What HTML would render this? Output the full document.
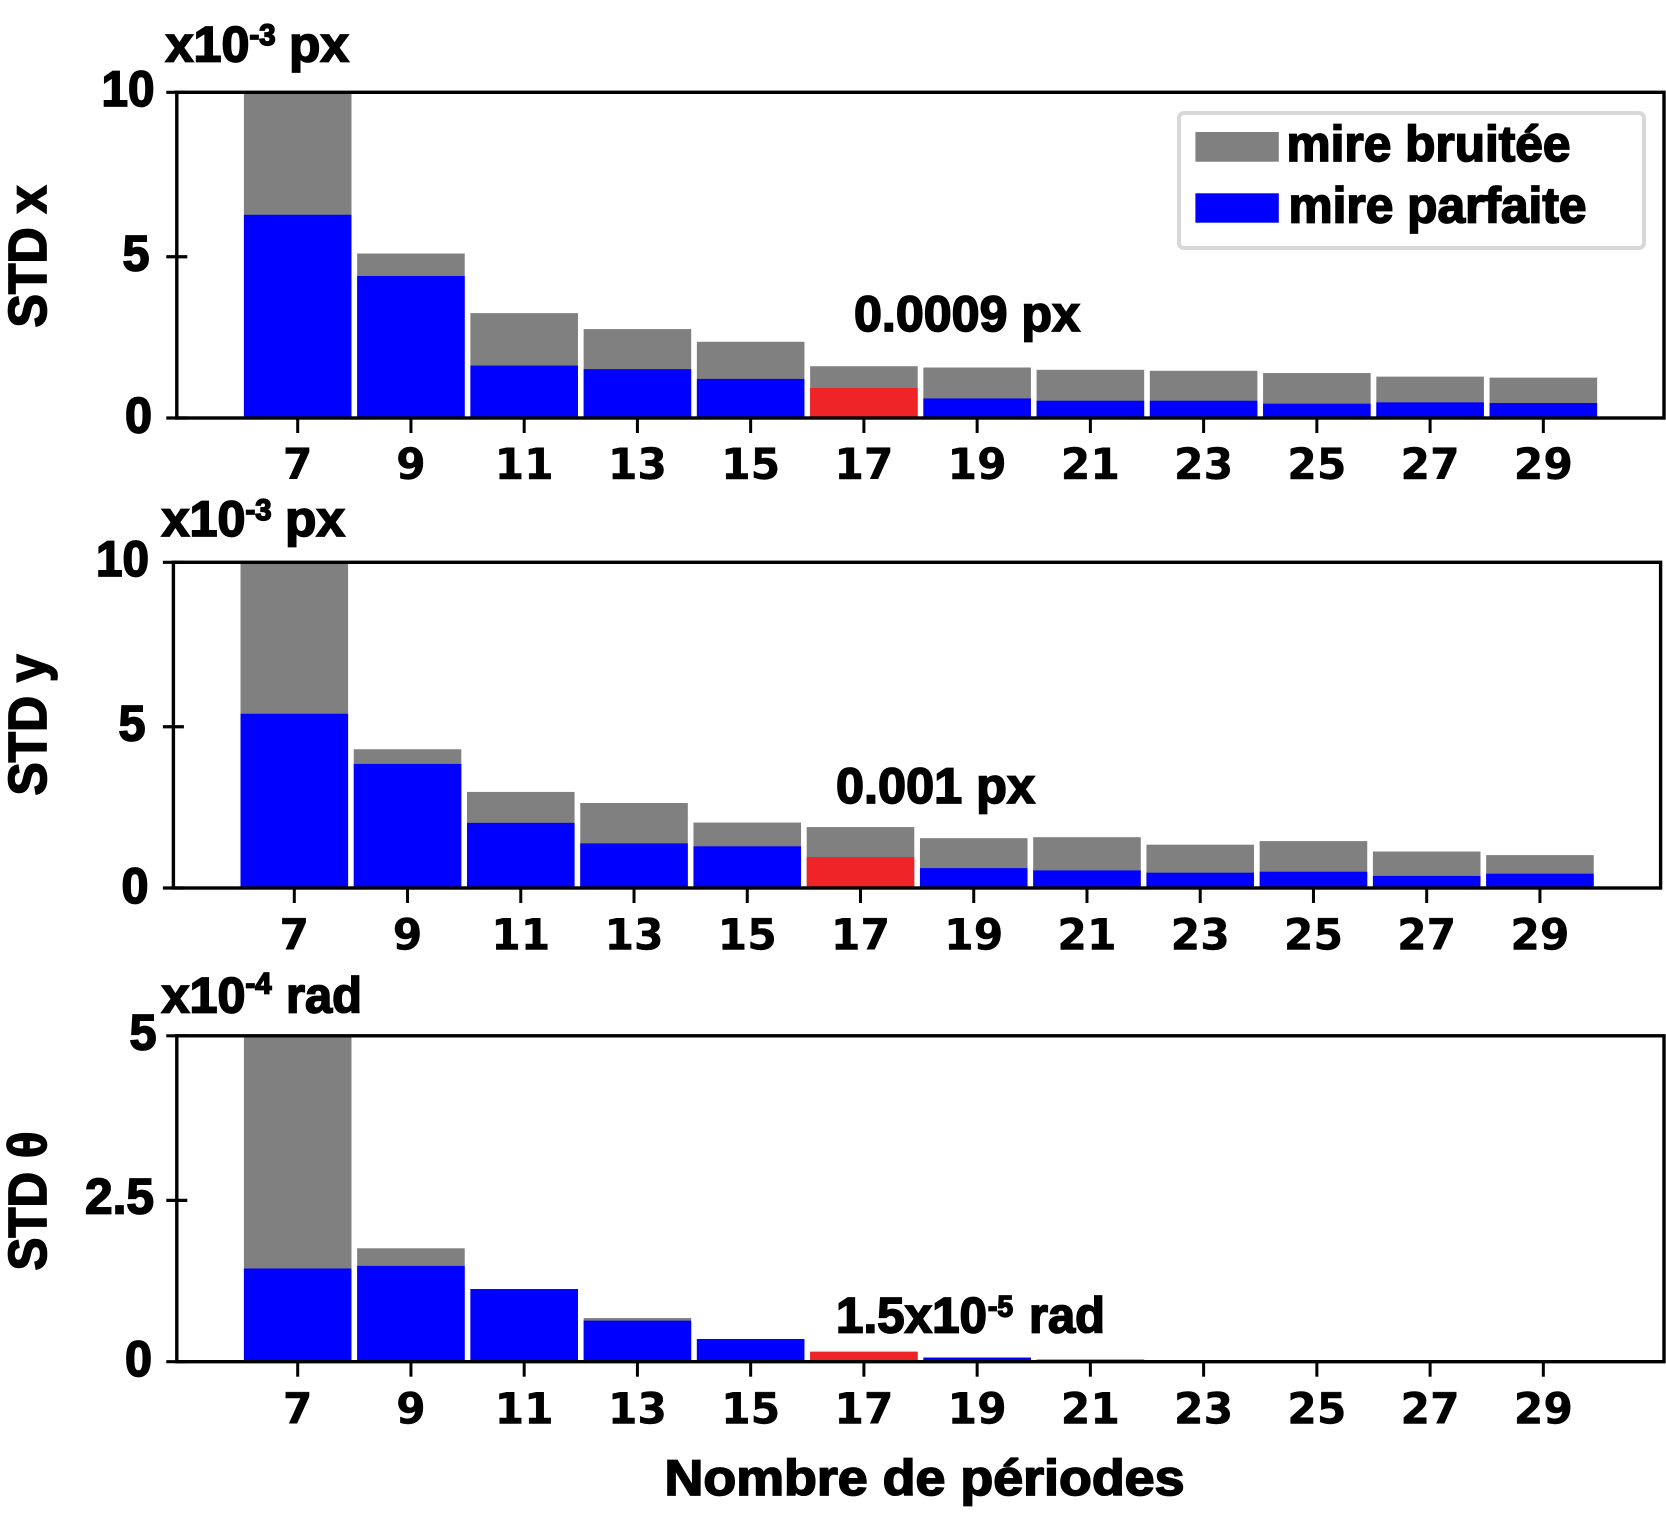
<!DOCTYPE html>
<html lang="fr">
<head>
<meta charset="utf-8">
<title>STD vs nombre de périodes</title>
<style>
html,body{margin:0;padding:0;background:#fff;}
svg{display:block;}
.lib{font-family:"Liberation Sans",Arial,sans-serif;font-weight:700;fill:#000;stroke:#000;stroke-width:1.7px;}
.dj{font-family:"DejaVu Sans",sans-serif;font-weight:700;fill:#000;stroke:#000;stroke-width:.4px;font-size:42.5px;text-anchor:middle;}
</style>
</head>
<body>
<svg id="chart" xmlns="http://www.w3.org/2000/svg" width="1666" height="1517" viewBox="0 0 1666 1517"></svg>
<script>
// ---- data ----
const periods = [7, 9, 11, 13, 15, 17, 19, 21, 23, 25, 27, 29];
const stdXNoisy = [12.0, 5.05, 3.22, 2.73, 2.34, 1.59, 1.55, 1.48, 1.45, 1.38, 1.27, 1.24];
const stdXPerfect = [6.24, 4.36, 1.61, 1.50, 1.20, 0.92, 0.60, 0.53, 0.53, 0.44, 0.48, 0.46];
const stdYNoisy = [12.0, 4.26, 2.95, 2.61, 2.01, 1.87, 1.53, 1.56, 1.33, 1.44, 1.12, 1.01];
const stdYPerfect = [5.35, 3.81, 2.00, 1.37, 1.28, 0.95, 0.61, 0.54, 0.47, 0.50, 0.37, 0.44];
const stdThetaNoisy = [6.5, 1.74, 1.115, 0.67, 0.348, 0.153, 0.067, 0.037, 0.015, 0.012, 0.010, 0.008];
const stdThetaPerfect = [1.43, 1.47, 1.115, 0.63, 0.348, 0.153, 0.060, 0.020, 0.010, 0.008, 0.006, 0.005];
const yTicksX = [0, 5, 10];
const yTicksY = [0, 5, 10];
const yTicksTheta = [0, 2.5, 5];
const bestPeriod = 17;
const barWidthUnits = 1.9;

// ---- layout (not data) ----
const NS = 'http://www.w3.org/2000/svg';
const svg = document.getElementById('chart');

function node(tag, parent) {
  const el = document.createElementNS(NS, tag);
  parent.appendChild(el);
  return el;
}
function setAll(el, o) {
  for (const k in o) el.setAttribute(k, o[k]);
  return el;
}
function label(parent, str, x, base, w, size) {
  const el = node('text', parent);
  el.setAttribute('class', 'lib');
  setAll(el, { x: x, y: base, 'font-size': size });
  if (w) { setAll(el, { textLength: w, lengthAdjust: 'spacingAndGlyphs' }); }
  el.textContent = str;
  return el;
}

function drawPanel(cfg) {
  const g = node('g', svg);
  
  

  const xScale = v => cfg.x7 + (v - 7) * cfg.unit;
  const yScale = v => cfg.bottom - v / cfg.ymax * (cfg.bottom - cfg.top);

  const clip = node('clipPath', g);
  clip.setAttribute('id', 'clip-' + cfg.name);
  setAll(node('rect', clip), { x: cfg.left, y: cfg.top, width: cfg.right - cfg.left, height: cfg.bottom - cfg.top });

  const bars = node('g', g);
  bars.setAttribute('clip-path', 'url(#clip-' + cfg.name + ')');
  const w = barWidthUnits * cfg.unit;

  periods.forEach((p, i) => {
    const gray = node('rect', bars);
    setAll(gray, { x: xScale(p) - w / 2, width: w, y: yScale(cfg.noisy[i]), height: cfg.bottom - yScale(cfg.noisy[i]), fill: '#808080' });
    
    

    const top = node('rect', bars);
    setAll(top, { x: xScale(p) - w / 2, width: w, y: yScale(cfg.perfect[i]), height: cfg.bottom - yScale(cfg.perfect[i]), fill: p === bestPeriod ? '#ee2428' : '#0000ff' });
    
    
  });

  const frame = node('rect', g);
  setAll(frame, { x: cfg.left, y: cfg.top, width: cfg.right - cfg.left, height: cfg.bottom - cfg.top, fill: 'none', stroke: '#000', 'stroke-width': 3.4 });
  
  

  // y ticks (marks straddle the left spine); the mid tick sits slightly low in the source figure
  cfg.yTicks.forEach((v, i) => {
    const nudge = i === 1 ? 1.6 : 0;
    const t = node('line', g);
    setAll(t, { x1: cfg.left - 10.5, x2: cfg.left + 10.5, y1: yScale(v) + nudge, y2: yScale(v) + nudge, stroke: '#000', 'stroke-width': 3.2 });
    
    
  });
  cfg.yLabels.forEach(l => {
    const el = label(g, l.s, l.x, l.b, l.w, 50);
    
    
  });

  // x ticks and labels
  periods.forEach(p => {
    const t = node('line', g);
    setAll(t, { x1: xScale(p), x2: xScale(p), y1: cfg.bottom, y2: cfg.bottom + 15, stroke: '#000', 'stroke-width': 3 });
    
    
    const el = node('text', g);
    el.setAttribute('class', 'dj');
    setAll(el, { x: xScale(p), y: cfg.xLabelBase });
    el.textContent = String(p);
    
    
  });

  // rotated y-axis title
  const yt = label(g, cfg.title, 0, 0, cfg.titleLen, 54);
  yt.setAttribute('transform', 'translate(46,' + cfg.titleStart + ') rotate(-90)');
  
  

  // unit labels and annotation, pieces: [text, x, baseline, width, size]
  cfg.unitPieces.forEach(u => {
    const el = label(g, u[0], u[1], u[2], u[3], u[4]);
    
    
  });
  cfg.notePieces.forEach(u => {
    const el = label(g, u[0], u[1], u[2], u[3], u[4]);
    
    
  });
}

drawPanel({
  name: 'std-x', noisy: stdXNoisy, perfect: stdXPerfect, ymax: 10, yTicks: yTicksX,
  left: 176.8, right: 1664, top: 92.3, bottom: 418, x7: 297.7, unit: 56.62, xLabelBase: 479,
  title: 'STD x', titleStart: 327.5, titleLen: 142,
  yLabels: [{ s: '10', x: 101.5, b: 106, w: 53 }, { s: '5', x: 122.5, b: 270.5, w: 27 }, { s: '0', x: 125, b: 432.5, w: 27 }],
  unitPieces: [['x10', 165.5, 61.7, 84, 50], ['-3', 249.5, 45, 26, 30], ['px', 289, 61.7, 60, 50]],
  notePieces: [['0.0009 px', 854, 331, 226, 50]]
});
drawPanel({
  name: 'std-y', noisy: stdYNoisy, perfect: stdYPerfect, ymax: 10, yTicks: yTicksY,
  left: 173.4, right: 1660.6, top: 562.3, bottom: 888, x7: 294.3, unit: 56.62, xLabelBase: 949.3,
  title: 'STD y', titleStart: 795.5, titleLen: 141,
  yLabels: [{ s: '10', x: 96, b: 576, w: 53 }, { s: '5', x: 118.5, b: 740.7, w: 27 }, { s: '0', x: 121.5, b: 902.8, w: 27 }],
  unitPieces: [['x10', 161.5, 536, 84, 50], ['-3', 245.5, 520, 26, 30], ['px', 285, 536, 60, 50]],
  notePieces: [['0.001 px', 836, 803, 199, 50]]
});
drawPanel({
  name: 'std-theta', noisy: stdThetaNoisy, perfect: stdThetaPerfect, ymax: 5, yTicks: yTicksTheta,
  left: 176.8, right: 1664, top: 1035.8, bottom: 1361.7, x7: 297.7, unit: 56.62, xLabelBase: 1423.5,
  title: 'STD θ', titleStart: 1270.5, titleLen: 139,
  yLabels: [{ s: '5', x: 129.5, b: 1049.3, w: 27 }, { s: '2.5', x: 85, b: 1213.7, w: 69 }, { s: '0', x: 125, b: 1376.2, w: 27 }],
  unitPieces: [['x10', 161.5, 1012.7, 84, 50], ['-4', 245.5, 993.3, 26, 30], ['rad', 286, 1012.7, 76, 50]],
  notePieces: [['1.5x10', 836, 1332.5, 151, 50], ['-5', 988, 1316.7, 25, 30], ['rad', 1029, 1332.5, 76, 50]]
});

// x-axis title
const xTitle = label(svg, 'Nombre de périodes', 664.5, 1495, 520, 50);



// legend
const legend = node('g', svg);


const legendBox = node('rect', legend);
setAll(legendBox, { x: 1179, y: 113, width: 465, height: 135, rx: 5, ry: 5, fill: '#fff', stroke: '#d8d8d8', 'stroke-width': 4 });


const swatchNoisy = node('rect', legend);
setAll(swatchNoisy, { x: 1195.4, y: 132, width: 83.4, height: 29.7, fill: '#808080' });


const swatchPerfect = node('rect', legend);
setAll(swatchPerfect, { x: 1195.4, y: 193.3, width: 83.4, height: 29.4, fill: '#0000ff' });


const legendNoisy = label(legend, 'mire bruitée', 1286.5, 161, 284, 50);


const legendPerfect = label(legend, 'mire parfaite', 1288.5, 222.7, 298, 50);


</script>
</body>
</html>
